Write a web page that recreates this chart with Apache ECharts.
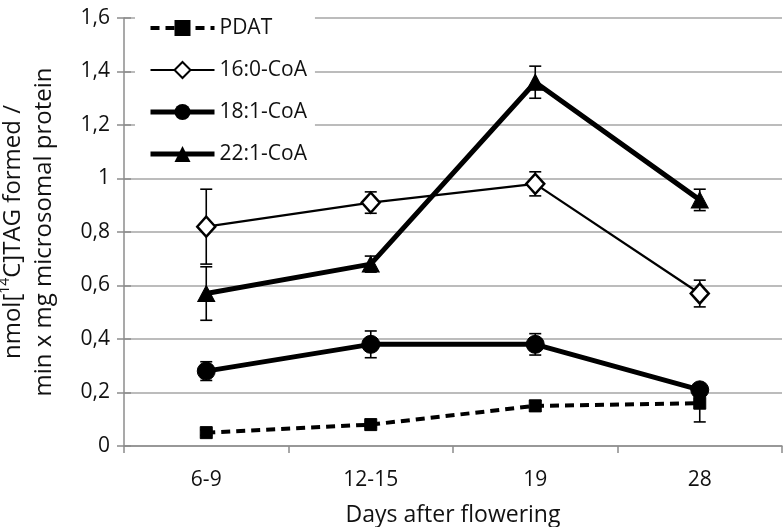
<!DOCTYPE html>
<html><head><meta charset="utf-8">
<script src="https://cdn.jsdelivr.net/npm/echarts@6/dist/echarts.min.js"></script>
<style>html,body{margin:0;padding:0;background:#fff}#c{width:783px;height:527px}</style>
</head><body><div id="c"></div>
<script>
const categories = ['6-9', '12-15', '19', '28'];
const yTicks = [0, 0.2, 0.4, 0.6, 0.8, 1, 1.2, 1.4, 1.6];
const pdat = [0.05, 0.08, 0.15, 0.16];
const pdatErr = [0.01, 0.01, 0.02, 0.07];
const c160 = [0.82, 0.91, 0.98, 0.57];
const c160Err = [0.14, 0.04, 0.045, 0.05];
const c181 = [0.28, 0.38, 0.38, 0.21];
const c181Err = [0.035, 0.05, 0.04, 0.01];
const c221 = [0.57, 0.68, 1.36, 0.92];
const c221Err = [0.10, 0.03, 0.06, 0.04];

const FONT = '"Open Sans", "Noto Sans", sans-serif';
const chart = echarts.init(document.getElementById('c'));

function errSeries(vals, errs) {
  return {
    type: 'custom',
    silent: true,
    z: 1,
    data: vals.map((v, i) => [i, v - errs[i], v + errs[i]]),
    renderItem: function (params, api) {
      const lo = api.coord([api.value(0), api.value(1)]);
      const hi = api.coord([api.value(0), api.value(2)]);
      const w = 6;
      const st = { stroke: '#000', lineWidth: 1.6 };
      return {
        type: 'group',
        children: [
          { type: 'line', shape: { x1: lo[0], y1: lo[1], x2: hi[0], y2: hi[1] }, style: st },
          { type: 'line', shape: { x1: lo[0] - w, y1: lo[1], x2: lo[0] + w, y2: lo[1] }, style: st },
          { type: 'line', shape: { x1: hi[0] - w, y1: hi[1], x2: hi[0] + w, y2: hi[1] }, style: st }
        ]
      };
    }
  };
}

const axisGrey = '#8c8c8c';
const labelFmt = function (v) {
  const t = yTicks.find(x => Math.abs(x - v) < 1e-6);
  return String(+((t !== undefined ? t : v).toFixed(1))).replace('.', ',');
};

const option = {
  animation: false,
  backgroundColor: '#fff',
  grid: { left: 124, right: 1, top: 18, bottom: 81, containLabel: false, outerBoundsMode: 'none' },
  legend: {
    orient: 'vertical',
    left: 135,
    top: 10,
    backgroundColor: '#fff',
    padding: [7, 8, 7, 13],
    itemGap: 20,
    itemWidth: 64,
    itemHeight: 20,
    lineStyle: { width: 'inherit', type: 'inherit' },
    textStyle: { fontFamily: FONT, fontSize: 21, lineHeight: 22, color: '#111', padding: [0, 0, 0, 0] },
    data: ['PDAT', '16:0-CoA', '18:1-CoA', '22:1-CoA']
  },
  xAxis: {
    type: 'category',
    data: categories,
    boundaryGap: true,
    axisLine: { lineStyle: { color: axisGrey, width: 1.5 } },
    axisTick: { show: true, length: 7, lineStyle: { color: axisGrey, width: 1.5 } },
    axisLabel: { fontFamily: FONT, fontSize: 21, color: '#111', margin: 24 },
    name: 'Days after flowering',
    nameLocation: 'middle',
    nameGap: 58,
    nameTextStyle: { fontFamily: FONT, fontSize: 23, color: '#111' }
  },
  yAxis: [{
    type: 'value',
    min: 0, max: 1.6, interval: 0.2,
    axisLine: { show: true, lineStyle: { color: axisGrey, width: 1.5 } },
    axisTick: { show: true, length: 7, lineStyle: { color: axisGrey, width: 1.5 } },
    splitLine: { lineStyle: { color: '#a6a6a6', width: 1.5 } },
    axisLabel: { fontFamily: FONT, fontSize: 21, color: '#111', margin: 14, formatter: labelFmt },
    name: 'nmol[{sup|14}C]TAG formed /\nmin x mg microsomal protein',
    nameLocation: 'middle',
    nameGap: 64,
    nameTextStyle: {
      fontFamily: FONT, fontSize: 24, color: '#111', lineHeight: 31,
      rich: { sup: { fontFamily: FONT, fontSize: 14, color: '#111', verticalAlign: 'top', padding: [0, 0, 12, 0] } }
    }
  }, {
    type: 'value',
    position: 'left',
    min: 0, max: 1.6, interval: 0.2,
    axisLine: { show: false },
    axisTick: { show: true, inside: true, length: 7, lineStyle: { color: axisGrey, width: 1.5 } },
    splitLine: { show: false },
    axisLabel: { show: false }
  }],
  series: [
    errSeries(pdat, pdatErr),
    errSeries(c160, c160Err),
    errSeries(c181, c181Err),
    errSeries(c221, c221Err),
    {
      name: 'PDAT', type: 'line', data: pdat, z: 3,
      symbol: 'rect', symbolSize: 12,
      lineStyle: { color: '#000', width: 4, type: [9, 6] },
      itemStyle: { color: '#000', borderColor: '#000' }
    },
    {
      name: '16:0-CoA', type: 'line', data: c160, z: 3,
      symbol: 'diamond', symbolSize: [18, 20],
      lineStyle: { color: '#000', width: 2.2 },
      itemStyle: { color: '#fff', borderColor: '#000', borderWidth: 2.5 }
    },
    {
      name: '18:1-CoA', type: 'line', data: c181, z: 3,
      symbol: 'circle', symbolSize: 18,
      lineStyle: { color: '#000', width: 5 },
      itemStyle: { color: '#000', borderColor: '#000' }
    },
    {
      name: '22:1-CoA', type: 'line', data: c221, z: 3,
      symbol: 'triangle', symbolSize: [17, 16],
      lineStyle: { color: '#000', width: 5 },
      itemStyle: { color: '#000', borderColor: '#000' }
    }
  ]
};
chart.setOption(option);
</script>
</body></html>
